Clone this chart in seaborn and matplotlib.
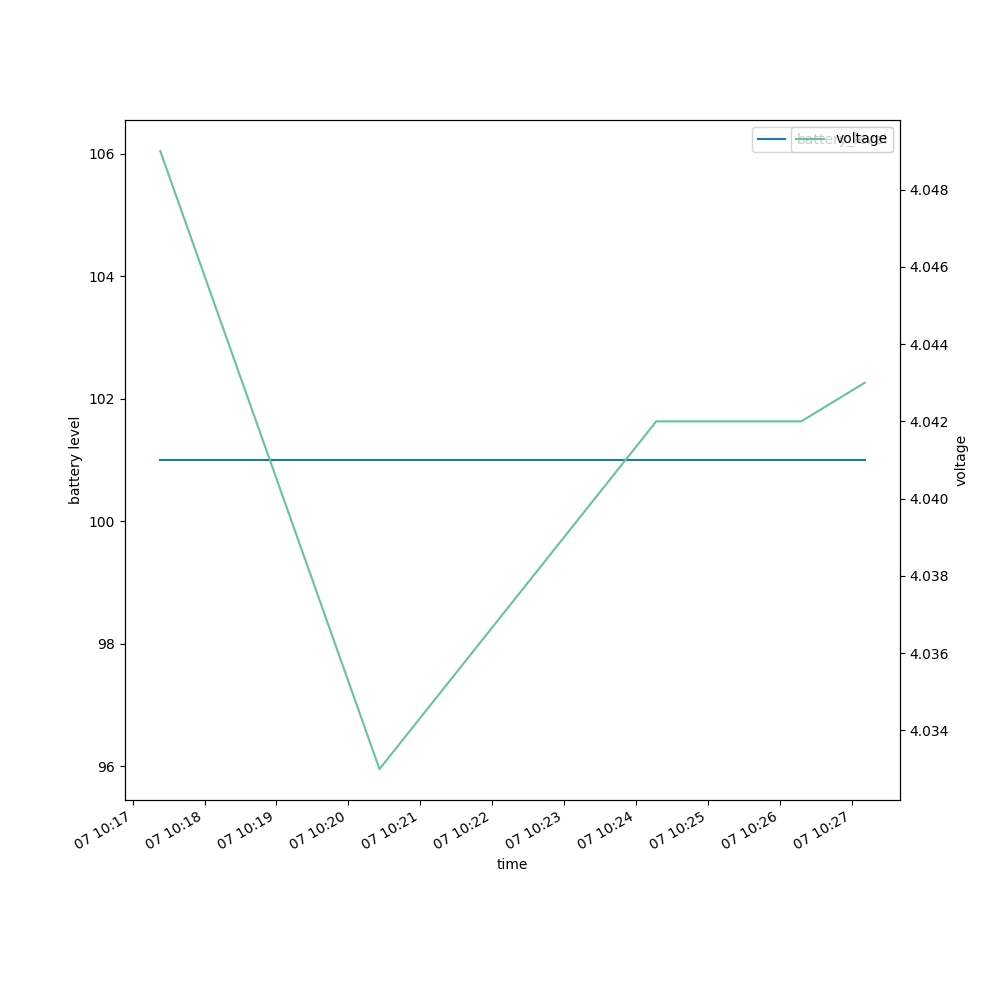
import pandas as pd
import matplotlib
matplotlib.use("Agg")
import matplotlib.pyplot as plt
import seaborn as sns

# readings from the log
times = ["2021-06-07 10:17:23", "2021-06-07 10:20:26", "2021-06-07 10:24:17",
         "2021-06-07 10:26:18", "2021-06-07 10:27:11"]
battery_level = [101, 101, 101, 101, 101]
voltage = [4.049, 4.033, 4.042, 4.042, 4.043]

df = pd.DataFrame({"time": pd.to_datetime(times),
                   "battery_level": battery_level,
                   "voltage": voltage})

fig, ax = plt.subplots(figsize=(10, 10), dpi=100)
sns.lineplot(data=df, x="time", y="battery_level", ax=ax, color="#1f77b4", label="battery_level")
ax.set_ylabel("battery level")
ax.set_xlabel("time")
ax.legend(loc="upper right")

ax2 = ax.twinx()
sns.lineplot(data=df, x="time", y="voltage", ax=ax2, color=sns.color_palette("Set2")[0], label="voltage")
ax2.set_ylabel("voltage")
ax2.legend(loc="upper right")

fig.autofmt_xdate()
fig.savefig("out.png")
